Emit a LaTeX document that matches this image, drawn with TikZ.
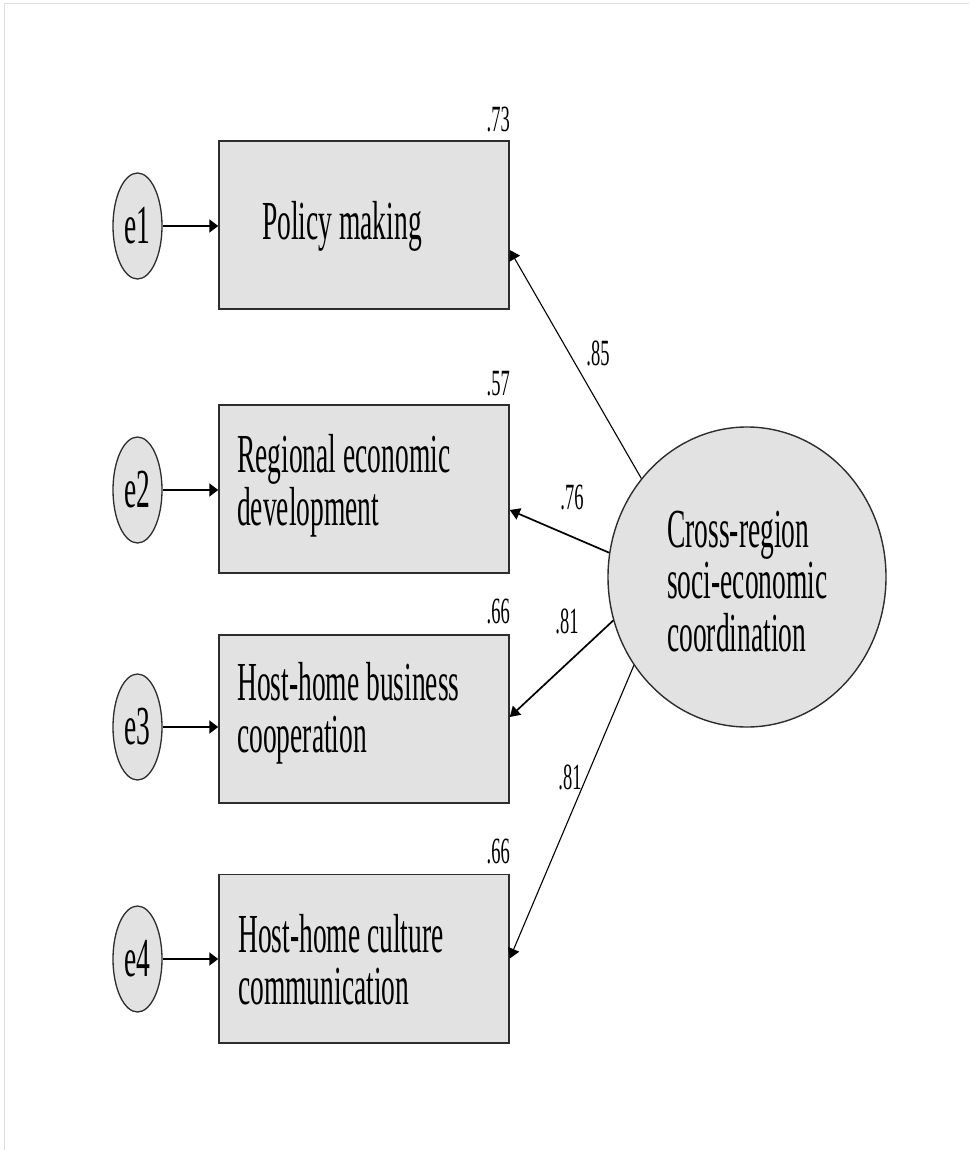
\documentclass[tikz,border=0pt]{standalone}
\usepackage{fontspec}
\setmainfont{Liberation Serif}[FakeStretch=0.5]
\usetikzlibrary{arrows.meta,shapes.geometric}

\definecolor{boxfill}{RGB}{226,226,226}
\definecolor{edgeline}{RGB}{45,45,45}
\definecolor{framegray}{RGB}{222,222,222}

% left-aligned stack of lines whose baseline is the first line
\newcommand\stacklines[1]{\begin{tabular}[t]{@{}l@{}}#1\end{tabular}}

\begin{document}
\begin{tikzpicture}[x=1pt,y=-1pt,
  indicator/.style={draw=edgeline,line width=1.5pt,fill=boxfill,rectangle,
    minimum width=290pt,minimum height=168pt,inner sep=0pt},
  errterm/.style={draw=edgeline,line width=1.3pt,fill=boxfill,ellipse,
    minimum width=49pt,minimum height=106pt,inner sep=0pt,
    font=\fontsize{55}{52}\selectfont},
  latent/.style={draw=edgeline,line width=1.4pt,fill=boxfill,ellipse,
    minimum width=278pt,minimum height=300pt,inner sep=0pt},
  boxtext/.style={anchor=base west,inner sep=0pt,
    font=\fontsize{55}{52}\selectfont},
  latenttext/.style={anchor=base west,inner sep=0pt,
    font=\fontsize{55}{50}\selectfont},
  coef/.style={inner sep=0pt,font=\fontsize{37}{40}\selectfont},
  errarrow/.style={draw=black,line width=2pt,-{Triangle[length=9pt,width=13pt]}},
  loadsteep/.style={draw=black,line width=1.1pt,-{Triangle[length=10pt,width=12pt]}},
  loadflat/.style={draw=black,line width=1.7pt,-{Triangle[length=10pt,width=12pt]}},
]
\useasboundingbox (0,0) rectangle (969,1150);

% outer frame
\draw[framegray,line width=1pt] (4,1150) -- (4,4) -- (969,4);

% observed indicators
\node[indicator] (b1) at (364,225) {};
\node[indicator] (b2) at (364,489) {};
\node[indicator] (b3) at (364,719) {};
\node[indicator] (b4) at (364,958.5) {};
\foreach \b in {b1,b2,b3,b4}{
  \draw[edgeline,line width=2.2pt] ([yshift=0.6pt]\b.south west) -- ([yshift=0.6pt]\b.south east);
}

\node[boxtext] (t1) at (262,240) {Policy making};
\node[boxtext] (t2) at (237,472) {\stacklines{Regional economic\\development}};
\node[boxtext] (t3) at (237,700) {\stacklines{Host-home business\\cooperation}};
\node[boxtext] (t4) at (238,952) {\stacklines{Host-home culture\\communication}};

% squared multiple correlations
\node[coef,anchor=base east] (r1) at (510,132) {.73};
\node[coef,anchor=base east] (r2) at (510,395) {.57};
\node[coef,anchor=base east] (r3) at (510,623) {.66};
\node[coef,anchor=base east] (r4) at (510,863) {.66};

% error terms
\node[errterm] (e1) at (137.5,226) {e1};
\node[errterm] (e2) at (137.5,490) {e2};
\node[errterm] (e3) at (137.5,727) {e3};
\node[errterm] (e4) at (137.5,959) {e4};
\foreach \i in {1,2,3,4}{
  \draw[errarrow] (e\i.east) -- (e\i.east -| b\i.west);
}

% latent factor
\node[latent] (L) at (747,577) {};
\node[latenttext] (Lt) at (667,547) {\stacklines{Cross-region\\soci-economic\\coordination}};

% factor loadings
\draw[loadsteep] (L.137.5) -- ([yshift=-25pt]b1.east);
\draw[loadflat]  (L.170.2) -- ([yshift=-21pt]b2.east);
\draw[loadflat]  (L.198.9) -- ([yshift=2pt]b3.east);
\draw[loadsteep] (L.218.3) -- (b4.east);

\node[coef] (w1) at (598,353) {.85};
\node[coef] (w2) at (572,498) {.76};
\node[coef] (w3) at (567,621) {.81};
\node[coef] (w4) at (570,777) {.81};
\end{tikzpicture}
\end{document}
